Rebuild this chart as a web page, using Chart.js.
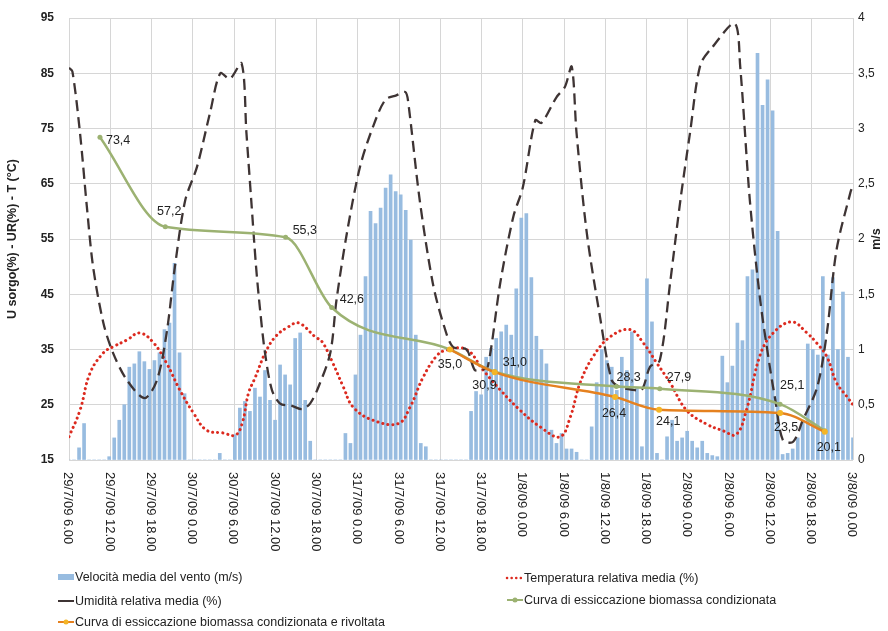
<!DOCTYPE html>
<html>
<head>
<meta charset="utf-8">
<script src="https://cdn.jsdelivr.net/npm/chart.js@4.4.1/dist/chart.umd.min.js"></script>
<style>html,body{margin:0;padding:0;background:#fff}canvas{display:block}</style>
</head>
<body>
<canvas id="c" width="888" height="631"></canvas>
<script>
// ---------------- DATA ----------------
const tickLabels = ['29/7/09 6.00','29/7/09 12.00','29/7/09 18.00','30/7/09 0.00','30/7/09 6.00','30/7/09 12.00','30/7/09 18.00',
  '31/7/09 0.00','31/7/09 6.00','31/7/09 12.00','31/7/09 18.00','1/8/09 0.00','1/8/09 6.00','1/8/09 12.00','1/8/09 18.00',
  '2/8/09 0.00','2/8/09 6.00','2/8/09 12.00','2/8/09 18.00','3/8/09 0.00'];
const tickStepHours = 6;            // hours between tick labels
const windStepHours = 114 / 156;   // hours between wind samples

// Velocità media del vento (m/s), one value per sample
const windSpeed = [
  0, 0, 0.11, 0.33, 0, 0, 0, 0,
  0.03, 0.2, 0.36, 0.5, 0.84, 0.87, 0.98, 0.89, 0.82, 0.9, 0.97, 1.18, 1.24, 1.78, 0.97, 0.6,
  0, 0, 0, 0, 0, 0, 0.06, 0, 0,
  0.23, 0.47, 0.53, 0.44, 0.65, 0.57, 0.81, 0.54, 0.36, 0.86, 0.77, 0.68, 1.1, 1.15, 0.54, 0.17,
  0, 0, 0, 0, 0, 0,
  0.24, 0.15, 0.77, 1.13, 1.66, 2.25, 2.14, 2.28, 2.46, 2.58, 2.43, 2.4, 2.26, 1.99, 1.13, 0.15, 0.12,
  0, 0, 0, 0, 0, 0, 0, 0,
  0.44, 0.62, 0.59, 0.93, 1.01, 1.1, 1.16, 1.22, 1.13, 1.55, 2.19, 2.23, 1.65, 1.12, 1.0, 0.87, 0.27, 0.15, 0.24, 0.1, 0.1, 0.07,
  0, 0,
  0.3, 0.7, 1.0, 0.9, 0.84, 0.63, 0.93, 0.81, 1.16, 0.66, 0.12, 1.64, 1.25, 0.06, 0, 0.21, 0.36, 0.17, 0.2, 0.26, 0.17, 0.11, 0.17, 0.06, 0.04, 0.03,
  0.94, 0.7, 0.85, 1.24, 1.08, 1.66, 1.72, 3.68, 3.21, 3.44, 3.16, 2.07, 0.05, 0.06, 0.1, 0.2, 0.35, 1.05, 1.0, 0.95, 1.66, 0.95, 1.65, 1.0, 1.52, 0.93, 0.2
];

// Umidità relativa media (%)
const humidityHours = [0, 0.5, 1.6, 2.6, 3.5, 5.0, 6.4, 8.4, 11.0, 12.8, 14.2, 15.4, 16.9, 18.6, 20.5, 22.0, 23.4, 25.1, 25.8, 26.5,
  27.2, 27.8, 28.5, 29.5, 30.7, 32.4, 33.9, 35.1, 36.3, 38.0, 38.9, 40.4, 42.3, 44.2, 46.0, 47.6, 48.9, 49.3, 51.0, 52.9,
  54.4, 55.8, 57.8, 59.0, 60.0, 60.9, 62.7, 64.6, 66.0, 67.8, 68.7, 70.9, 72.1, 73.1, 73.8, 75.3, 77.2, 78.9, 80.1, 82.0,
  83.3, 84.5, 85.9, 87.4, 88.9, 90.3, 91.8, 93.6, 96.8, 97.6, 99.0, 100.5, 101.9, 102.7, 103.8, 105.3, 106.7, 108.8, 110.2, 111.6,
  113.6, 114];
const humidityValues = [86, 85.3, 74.2, 60.8, 50, 39.8, 34.4, 29.5, 26.2, 29.5, 38, 50, 62, 68, 77.8, 85, 84, 86.8, 74.2, 62,
  50, 42, 34.4, 27.7, 25.2, 24.8, 24.2, 25.3, 28.3, 34.4, 44, 56, 68, 75.3, 80.2, 81, 81.6, 80, 62, 47,
  39.8, 35.5, 35, 31.3, 31.3, 31.9, 47, 59, 64.4, 76.5, 76, 80.7, 82.5, 86.2, 74.2, 56, 41, 29.5, 28.2, 27.7,
  27.7, 31.9, 33, 47, 62, 74.2, 86.5, 89.8, 94, 86.2, 62, 44, 31.9, 25.9, 18.6, 18.3, 22.2, 28.2, 38, 53,
  63.3, 64.8];

// Temperatura relativa media (%)
const temperatureHours = [0, 1.6, 3.05, 5.0, 6.4, 8.4, 10.3, 12.3, 14.2, 16.1, 18.1, 20.0, 22.4, 24.2, 25.2, 26.1, 27.1, 28.5, 30.0, 31.9,
  33.4, 35.8, 36.8, 38.2, 39.9, 41.3, 44.2, 47.9, 49.6, 51.5, 53.5, 54.9, 57.8, 60.2, 62.7, 65.6, 68.5, 71.4, 72.9, 74.3,
  76.2, 78.7, 81.6, 83.5, 85.5, 87.4, 89.8, 92.7, 95.1, 97.0, 98.5, 100.5, 102.4, 105.1, 107.3, 108.7, 110.2, 111.6, 113.1, 114];
const temperatureValues = [19.2, 24, 30.7, 34.4, 35.5, 36.7, 38, 36.2, 32.5, 27.7, 23.5, 20.4, 19.9, 19.5, 21.7, 27.1, 30, 34.3, 37.3, 39.1,
  39.8, 37.3, 36.4, 33, 28.2, 24.6, 22.2, 21.6, 24.6, 30, 33.9, 34.9, 35, 31.3, 27.7, 24, 21, 19.2, 22.8, 28.9,
  33.7, 37.3, 38.6, 36.2, 32.5, 29, 24, 21.5, 20.3, 19.6, 24, 34, 38, 40, 38, 36.2, 33.7, 29, 26.5, 25];

// Curva di essiccazione biomassa condizionata
const dryHours  = [4.5, 14.0, 31.5, 38.2, 55.4, 61.9, 79.6, 85.9, 103.4, 109.9];
const dryValues = [73.4, 57.2, 55.3, 42.6, 35.0, 31.0, 28.3, 27.9, 25.1, 20.3];
// Curva di essiccazione biomassa condizionata e rivoltata
const dryTurnedHours  = [55.4, 61.9, 79.4, 85.8, 103.4, 109.9];
const dryTurnedValues = [35.0, 30.9, 26.4, 24.1, 23.5, 20.1];

// ---------------- STYLE ----------------
const FONT = "'Liberation Sans', Arial, Helvetica, sans-serif";
const TXT = '#222222';
const GRID = '#d6d6d6';
const BAR = '#98bce0';
const RED = '#dc2a1f';
const DARK = '#3e3434';
const GREEN = '#9cb272';
const ORANGE = '#e5811f';
const YELLOW = '#f4b526';

// label placement [dx, dy, align] per point (null = no label)
const dryLabelPos = [[6,3,'left'],[4,-15,'center'],[7,-7,'left'],[8,-8,'left'],[0,15,'center'],[8,-9,'left'],[0,-9,'left'],[7,-11,'left'],[0,-19,'left'],null];
const dryTurnedLabelPos = [null,[2,13,'right'],[-1,17,'center'],[-3,12,'left'],[6,15,'center'],[4,16,'center']];

const fmt = v => v.toFixed(1).replace('.', ',');

const overlay = {
  id: 'overlay',
  afterDatasetsDraw(chart) {
    const ctx = chart.ctx;
    ctx.save();
    ctx.font = `12.5px ${FONT}`;
    ctx.fillStyle = TXT;
    ctx.textBaseline = 'middle';
    const drawLabels = (dsIndex, values, pos) => {
      const meta = chart.getDatasetMeta(dsIndex);
      meta.data.forEach((pt, j) => {
        const p = pos[j];
        if (!p) return;
        ctx.textAlign = p[2];
        ctx.fillText(fmt(values[j]), pt.x + p[0], pt.y + p[1]);
      });
    };
    drawLabels(3, dryValues, dryLabelPos);
    drawLabels(4, dryTurnedValues, dryTurnedLabelPos);
    ctx.restore();
  },
  afterDraw(chart) {
    const ctx = chart.ctx, xs = chart.scales.x, area = chart.chartArea;
    ctx.save();
    // x tick labels, rotated clockwise
    ctx.font = `13px ${FONT}`;
    ctx.fillStyle = TXT;
    ctx.textAlign = 'left';
    ctx.textBaseline = 'middle';
    tickLabels.forEach((t, i) => {
      const px = xs.getPixelForValue(i * tickStepHours);
      ctx.save();
      ctx.translate(px - 1, area.bottom + 12);
      ctx.rotate(Math.PI / 2);
      ctx.fillText(t, 0, 0);
      ctx.restore();
    });
    // right axis title
    ctx.save();
    ctx.font = `bold 12.5px ${FONT}`;
    ctx.textAlign = 'center';
    ctx.translate(877, (area.top + area.bottom) / 2);
    ctx.rotate(-Math.PI / 2);
    ctx.fillText('m/s', 0, 0);
    ctx.restore();

    // legend
    const ds = chart.data.datasets;
    ctx.font = `12.5px ${FONT}`;
    ctx.textAlign = 'left';
    const item = (d, x, y) => {
      const sx = x, ex = x + 16;
      if (d.type === 'bar') {
        ctx.fillStyle = d.backgroundColor;
        ctx.fillRect(sx, y - 3, 16, 6);
      } else {
        const dotted = d.borderDash && d.borderDash[0] < 1;
        ctx.save();
        ctx.strokeStyle = d.borderColor;
        ctx.lineWidth = dotted ? 2.5 : 2;
        ctx.lineCap = dotted ? 'round' : 'butt';
        if (dotted) ctx.setLineDash([0.1, 4.5]);
        ctx.beginPath(); ctx.moveTo(sx, y); ctx.lineTo(ex, y); ctx.stroke();
        ctx.restore();
        if (d.pointRadius > 0) {
          ctx.fillStyle = d.pointBackgroundColor;
          ctx.beginPath(); ctx.arc(sx + 8, y, 2.5, 0, Math.PI * 2); ctx.fill();
        }
      }
      ctx.fillStyle = TXT;
      ctx.fillText(d.label, ex + 1, y + 0.5);
    };
    item(ds[0], 58, 577);
    item(ds[2], 58, 601);
    item(ds[4], 58, 622);
    item(ds[1], 507, 578);
    item(ds[3], 507, 600);
    ctx.restore();
  }
};

new Chart(document.getElementById('c'), {
  data: {
    datasets: [
      { type: 'bar', label: 'Velocità media del vento (m/s)',
        data: windSpeed.map((v, i) => ({ x: i * windStepHours, y: v })),
        xAxisID: 'x', yAxisID: 'y1', backgroundColor: BAR, barThickness: 3, borderWidth: 0, grouped: false, order: 5 },
      { type: 'line', label: 'Temperatura relativa media (%)',
        data: temperatureHours.map((h, i) => ({ x: h, y: temperatureValues[i] })),
        xAxisID: 'x', yAxisID: 'y', borderColor: RED, borderWidth: 3, borderDash: [0.1, 5], borderCapStyle: 'round',
        pointRadius: 0, tension: 0.4, fill: false, order: 4 },
      { type: 'line', label: 'Umidità relativa media (%)',
        data: humidityHours.map((h, i) => ({ x: h, y: humidityValues[i] })),
        xAxisID: 'x', yAxisID: 'y', borderColor: DARK, borderWidth: 2.3, borderDash: [11, 6],
        pointRadius: 0, tension: 0.3, fill: false, order: 3 },
      { type: 'line', label: 'Curva di essiccazione biomassa condizionata',
        data: dryHours.map((h, i) => ({ x: h, y: dryValues[i] })),
        xAxisID: 'x', yAxisID: 'y', borderColor: GREEN, borderWidth: 2.5,
        pointRadius: 2.5, pointBackgroundColor: GREEN, pointBorderColor: GREEN, pointBorderWidth: 0,
        cubicInterpolationMode: 'monotone', fill: false, order: 2 },
      { type: 'line', label: 'Curva di essiccazione biomassa condizionata e rivoltata',
        data: dryTurnedHours.map((h, i) => ({ x: h, y: dryTurnedValues[i] })),
        xAxisID: 'x', yAxisID: 'y', borderColor: ORANGE, borderWidth: 2.5,
        pointRadius: 3, pointBackgroundColor: YELLOW, pointBorderColor: YELLOW, pointBorderWidth: 0,
        cubicInterpolationMode: 'monotone', fill: false, order: 1 }
    ]
  },
  options: {
    responsive: false,
    animation: false,
    devicePixelRatio: 1,
    layout: { padding: { top: 18, left: 0, right: 0, bottom: 0 }, autoPadding: false },
    plugins: { legend: { display: false }, tooltip: { enabled: false } },
    scales: {
      x: {
        type: 'linear', position: 'bottom', min: 0, max: 114, offset: false,
        ticks: { stepSize: tickStepHours, display: false },
        grid: { color: GRID, lineWidth: 1, drawTicks: false, offset: false },
        border: { display: false },
        afterFit(s) { s.height = 171; }
      },
      y: {
        type: 'linear', position: 'left', min: 15, max: 95,
        ticks: { stepSize: 10, padding: 0, color: TXT, font: { family: FONT, size: 12, weight: 'bold' } },
        grid: { color: GRID, lineWidth: 1, drawTicks: true, tickLength: 15, tickColor: 'rgba(0,0,0,0)' },
        border: { display: false },
        title: { display: true, text: 'U sorgo(%) - UR(%) - T (°C)', color: TXT,
                 font: { family: FONT, size: 12.5, weight: 'bold' }, padding: { top: 5, bottom: 0 } },
        afterFit(s) { s.width = 69; }
      },
      y1: {
        type: 'linear', position: 'right', min: 0, max: 4,
        ticks: { stepSize: 0.5, padding: 0, color: TXT, font: { family: FONT, size: 12 },
                 callback: v => String(v).replace('.', ',') },
        grid: { drawOnChartArea: false, drawTicks: true, tickLength: 5, tickColor: 'rgba(0,0,0,0)' },
        border: { display: false },
        afterFit(s) { s.width = 35; }
      }
    }
  },
  plugins: [overlay]
});
</script>
</body>
</html>
